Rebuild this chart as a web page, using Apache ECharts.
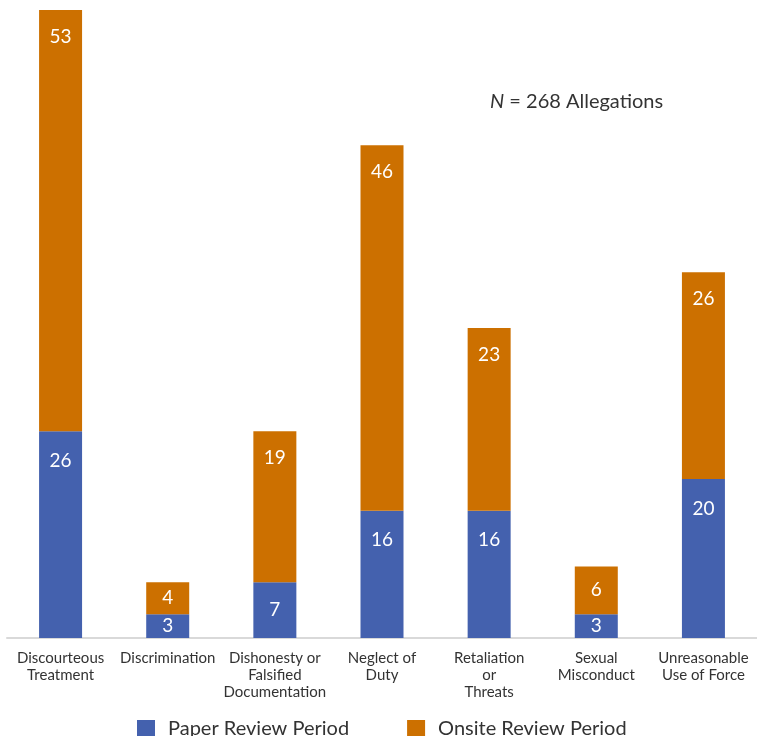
<!DOCTYPE html>
<html>
<head>
<meta charset="utf-8">
<script src="https://cdn.jsdelivr.net/npm/echarts@6/dist/echarts.min.js"></script>
<style>html,body{margin:0;padding:0;background:#fff}#c{width:757px;height:736px}</style>
</head>
<body>
<div id="c"></div>
<script>
const categories = ["Discourteous\nTreatment", "Discrimination", "Dishonesty or\nFalsified\nDocumentation", "Neglect of\nDuty", "Retaliation\nor\nThreats", "Sexual\nMisconduct", "Unreasonable\nUse of Force"];
const paperValues = [26, 3, 7, 16, 16, 3, 20];
const onsiteValues = [53, 4, 19, 46, 23, 6, 26];
const seriesNames = ["Paper Review Period", "Onsite Review Period"];
const annotation = "N = 268 Allegations";

const FONT = "Lato";
function mk(vals, topDist) {
  return vals.map(v => {
    if (v < 8) return { value: v, label: { position: 'inside' } };
    return { value: v, label: { position: 'insideTop', distance: topDist } };
  });
}
const chart = echarts.init(document.getElementById('c'));
chart.setOption({
  animation: false,
  textStyle: { fontFamily: FONT },
  grid: { left: 7, right: -3, top: 10, bottom: 98, containLabel: false },
  xAxis: {
    type: 'category', data: categories,
    axisTick: { show: false },
    axisLine: { lineStyle: { color: '#d9d9d9', width: 2 } },
    axisLabel: { interval: 0, color: '#333', fontSize: 15, lineHeight: 17, margin: 12, fontFamily: FONT }
  },
  yAxis: { type: 'value', min: 0, max: 79, show: false, splitLine: { show: false } },
  legend: {
    left: 137, top: 719, padding: 0, itemWidth: 18, itemHeight: 18, itemGap: 58, icon: 'rect',
    textStyle: { fontSize: 20, color: '#333', fontFamily: FONT, padding: [0, 0, 0, 8] },
    data: seriesNames
  },
  graphic: [{
    type: 'text', left: 490, top: 92,
    style: {
      text: '{i|N} = 268 Allegations',
      rich: { i: { fontStyle: 'italic', fontSize: 20, fill: '#333', fontFamily: FONT } },
      fontSize: 20, fill: '#333', fontFamily: FONT
    }
  }],
  series: [
    {
      name: seriesNames[0], type: 'bar', stack: 'a', barWidth: 43,
      itemStyle: { color: '#4461ae' },
      label: { show: true, color: '#fff', fontSize: 19, fontFamily: FONT },
      data: mk(paperValues, 20)
    },
    {
      name: seriesNames[1], type: 'bar', stack: 'a', barWidth: 43,
      itemStyle: { color: '#cc7000' },
      label: { show: true, color: '#fff', fontSize: 19, fontFamily: FONT },
      data: mk(onsiteValues, 17)
    }
  ]
});
</script>
</body>
</html>
